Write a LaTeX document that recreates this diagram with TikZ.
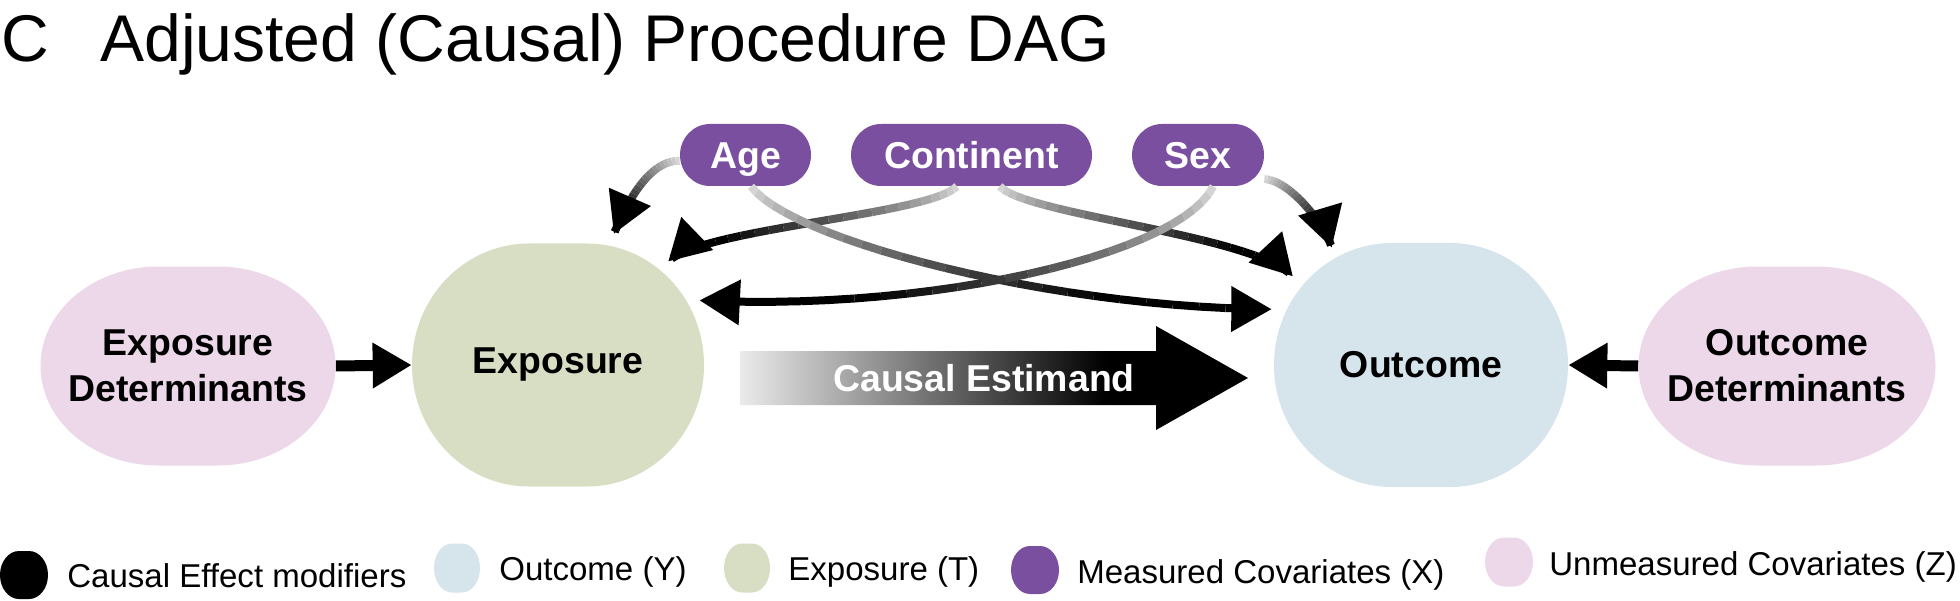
\documentclass[tikz,border=0pt]{standalone}
\usepackage{fontspec}
\setmainfont{Liberation Sans}
\usepackage{xcolor}
\usepackage{tikz}
\usetikzlibrary{arrows.meta, shapes.geometric, calc, decorations.markings}
\definecolor{exposuregreen}{RGB}{216,222,196}
\definecolor{outcomeblue}{RGB}{214,228,236}
\definecolor{unmeasuredpink}{RGB}{236,216,233}
\definecolor{covariatepurple}{RGB}{122,79,160}
\pgfdeclarehorizontalshading{estimandfade}{100bp}{color(0bp)=(black!8); color(25bp)=(black!8); color(61bp)=(black); color(100bp)=(black)}

\newcommand{\titlefont}{\fontsize{37.6}{45}\selectfont}
\newcommand{\labelfont}{\fontsize{21.3}{26.2}\selectfont\bfseries}
\newcommand{\legendfont}{\fontsize{18.8}{22}\selectfont}

% rounded blob: colour, centre x, centre y, width, height, corner radius
\newcommand{\blobshape}[6]{%
  \fill[#1] ({#2-#4/2+#6},{#3-#5/2}) -- ({#2+#4/2-#6},{#3-#5/2})
    arc[start angle=-90, end angle=90, x radius=#6, y radius={#5/2}]
    -- ({#2-#4/2+#6},{#3+#5/2})
    arc[start angle=90, end angle=270, x radius=#6, y radius={#5/2}] -- cycle;}

% covariate arrow, fading from grey to black: from, control 1, control 2, to
\newcommand{\covlink}[4]{%
  \coordinate (tipend) at ($#4!0.36cm!#3$);
  \path #1 .. controls #2 and #3 .. (tipend)
    foreach \k [evaluate=\k as \p using 0.97*\k/25] in {0,...,25} {coordinate[pos=\p] (fade\k)};
  \foreach \k [evaluate=\k as \v using {min(100,12+88*\k/20)}, evaluate=\k as \j using {int(\k-1)}] in {1,...,25}
    \draw[fadeseg, draw=black!\v] (fade\j) -- (fade\k);
  \path[covhead] #1 .. controls #2 and #3 .. (tipend);}

\begin{document}
\begin{tikzpicture}[x=0.02cm, y=-0.02cm,
    mainnode/.style={ellipse, inner sep=0pt, align=center, font=\labelfont},
    detnode/.style={rectangle, inner sep=0pt, align=center, font=\labelfont},
    covnode/.style={rectangle, inner sep=0pt, minimum height=1.24cm, text height=0.54cm, text depth=0cm, text=white, font=\labelfont},
    detarrow/.style={line width=0.22cm, -{Triangle[length=0.78cm, width=0.86cm]}},
    covhead/.style={decorate, decoration={markings, mark=at position 0.999 with
        {\fill (0,0) -- (-0.8cm,0.46cm) -- (-0.8cm,-0.46cm) -- cycle;}}},
    fadeseg/.style={line width=0.16cm},
    legendtext/.style={anchor=base west, inner sep=0pt, font=\legendfont}]
    \useasboundingbox (0,0) rectangle (1960,601);

    % Title
    \node[anchor=base west, inner sep=0pt, font=\titlefont] (panel) at (1,62) {C};
    \node[anchor=base west, inner sep=0pt, font=\titlefont] (title) at (100,62) {Adjusted (Causal) Procedure DAG};

    % Exposure side
    \blobshape{unmeasuredpink}{188}{366}{295}{199}{118}
    \blobshape{exposuregreen}{558}{365}{292}{243}{117}
    \node[detnode, minimum width=5.9cm, minimum height=3.98cm] (expdet) at (188,366) {Exposure\\Determinants};
    \node[mainnode, minimum width=5.84cm, minimum height=4.86cm] (expo) at (558,365) {Exposure};

    % Outcome side
    \blobshape{outcomeblue}{1421}{365}{294}{244}{118}
    \blobshape{unmeasuredpink}{1787}{366}{297}{199}{119}
    \node[mainnode, minimum width=5.88cm, minimum height=4.88cm] (outc) at (1421,365) {Outcome};
    \node[detnode, minimum width=5.94cm, minimum height=3.98cm] (outdet) at (1787,366) {Outcome\\Determinants};

    % Measured covariates
    \blobshape{covariatepurple}{745.5}{155}{131}{62}{30}
    \blobshape{covariatepurple}{971.5}{155}{241}{62}{30}
    \blobshape{covariatepurple}{1198}{155}{132}{62}{30}
    \node[covnode, minimum width=2.62cm] (age) at (745.5,155) {Age};
    \node[covnode, minimum width=4.82cm] (cont) at (971.5,155) {Continent};
    \node[covnode, minimum width=2.64cm] (sex) at (1198,155) {Sex};

    % Causal estimand
    \shade[shading=estimandfade] (740,351) -- (1156,351) -- (1156,326) -- (1248,378)
        -- (1156,430) -- (1156,405) -- (740,405) -- cycle;
    \node[font=\labelfont, text=white] (estim) at (984,378) {Causal Estimand};

    % Determinant arrows
    \draw[detarrow] (expdet.east) -- (expo.west);
    \draw[detarrow] (outdet.west) -- (outc.east);

    % Covariate arrows
    \covlink{(age.185)}{(645,160)}{(622,215)}{(expo.67)}
    \covlink{(cont.-115)}{(930,215)}{(702,228)}{(expo.43)}
    \covlink{(cont.-48)}{(1025,215)}{(1255,235)}{(outc.147)}
    \covlink{(sex.-20)}{(1290,180)}{(1325,225)}{(outc.130)}
    \covlink{(age.-80)}{(790,240)}{(1050,308)}{(outc.157)}
    \covlink{(sex.-64)}{(1180,255)}{(930,312)}{(expo.28)}

    % Legend
    \blobshape{black}{24}{575}{48}{48}{19}
    \node[legendtext] (legmod) at (67,587) {Causal Effect modifiers};
    \blobshape{outcomeblue}{457}{568}{46}{49}{18}
    \node[legendtext] (legout) at (499,580) {Outcome (Y)};
    \blobshape{exposuregreen}{747}{568}{46}{49}{18}
    \node[legendtext] (legexp) at (788,580) {Exposure (T)};
    \blobshape{covariatepurple}{1035}{570}{48}{48}{19}
    \node[legendtext] (legmeas) at (1077,583) {Measured Covariates (X)};
    \blobshape{unmeasuredpink}{1509}{562}{48}{49}{19}
    \node[legendtext] (legunm) at (1549,575) {Unmeasured Covariates (Z)};
\end{tikzpicture}
\end{document}
